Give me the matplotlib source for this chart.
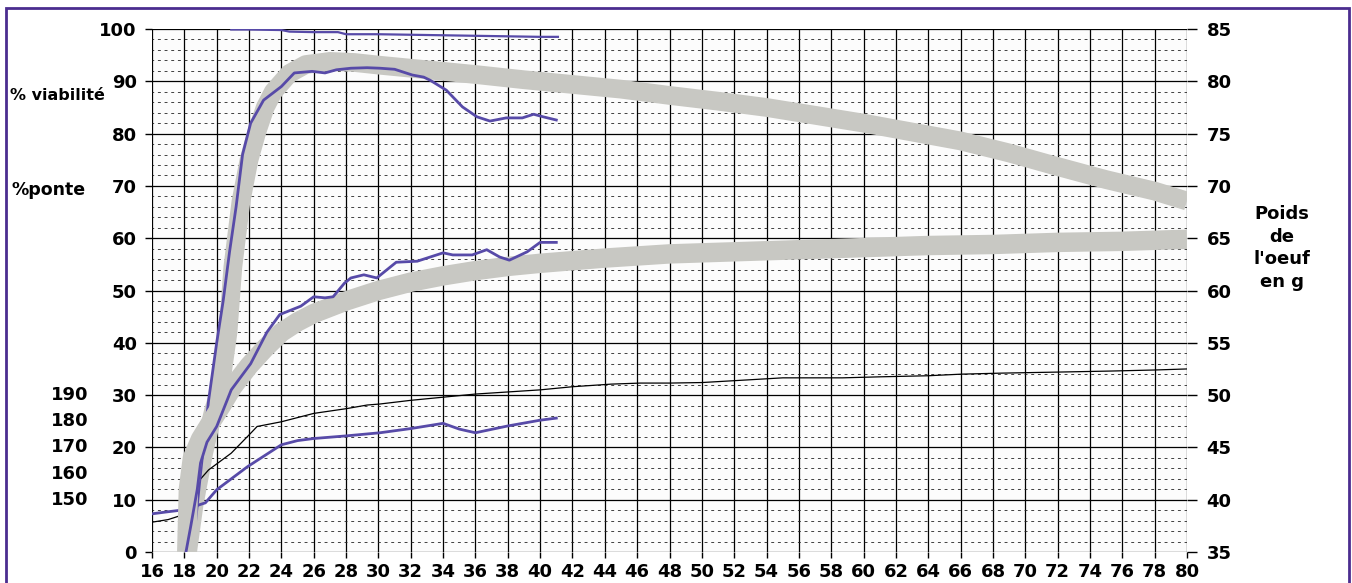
import matplotlib
matplotlib.use("Agg")
import matplotlib.pyplot as plt
from matplotlib.patches import Rectangle
from matplotlib.transforms import blended_transform_factory

# weeks of age on x
# viabilite (%), purple thin line at the top
viab_weeks = [20.9, 22, 24, 24.5, 26, 27.5, 28, 30, 32, 34, 36, 38, 40, 41.1]
viab_vals = [99.9, 99.9, 99.8, 99.5, 99.4, 99.4, 99.0, 99.0, 98.9, 98.8, 98.7, 98.6, 98.5, 98.5]

# ponte (%), standard (grey band) and observed (purple)
ponte_std_weeks = [18.2, 18.6, 19.2, 19.8, 20.2, 20.7, 21.0, 21.5, 22.0, 22.5, 23.0, 23.5, 24.5,
                   25.5, 27, 28.5, 30, 33, 36, 39, 42, 45, 48, 51, 54, 57, 60, 63, 66, 69, 72,
                   75, 78, 80]
ponte_std_vals = [0, 9, 19, 27, 31, 42, 54.5, 67, 75, 80.5, 85, 88, 91.5, 93.2, 93.8, 93.6, 93.1,
                  92.2, 91.3, 90.3, 89.4, 88.5, 87.3, 86.2, 85, 83.5, 82, 80.3, 78.6, 76.3, 73.7,
                  71.2, 69, 67.1]
ponte_weeks = [18.5, 19.0, 19.5, 20.0, 20.4, 20.8, 21.2, 21.6, 22.1, 22.9, 24.0, 24.8, 25.9, 26.7,
               27.4, 28.3, 29.3, 30.1, 31.0, 32.1, 32.8, 33.2, 34.2, 35.2, 36.1, 36.9, 37.9,
               38.9, 39.6, 40.2, 41.0]
ponte_vals = [0, 15, 29, 40, 48, 57.5, 66, 76, 82, 86.4, 89, 91.6, 91.9, 91.6, 92.2, 92.5, 92.6,
              92.5, 92.3, 91.2, 90.8, 90.2, 88.3, 85.1, 83.2, 82.4, 83.0, 83.0, 83.7, 83.2, 82.6]

# poids de l'oeuf (g), right axis
oeuf_std_weeks = [18.15, 18.25, 18.5, 19.0, 19.6, 20.3, 21, 22, 23, 24, 25, 26, 28, 30, 32, 34,
                  36, 38, 40, 44, 48, 52, 56, 60, 64, 68, 72, 76, 80]
oeuf_std_g = [35, 41, 44, 45.8, 47.3, 49, 50.8, 52.8, 54.5, 56, 57, 57.8, 59, 60, 60.8, 61.4,
              61.9, 62.3, 62.6, 63.1, 63.5, 63.7, 63.9, 64.1, 64.3, 64.4, 64.6, 64.7, 64.9]
oeuf_weeks = [18.1, 18.4, 18.8, 19.0, 19.4, 20.0, 20.9, 22.1, 23.1, 23.9, 25.2, 26.0, 26.7, 27.2,
              27.9, 28.3, 29.1, 29.9, 31.1, 32.4, 34.0, 34.6, 35.8, 36.7, 37.5, 38.1, 39.2,
              40.0, 41.0]
oeuf_g = [35, 37.5, 41, 43.5, 45.5, 47, 50.5, 53, 56, 57.7, 58.5, 59.4, 59.3, 59.4, 60.7, 61.2,
          61.5, 61.2, 62.7, 62.8, 63.6, 63.4, 63.4, 63.9, 63.2, 62.9, 63.7, 64.6, 64.6]

# poids corporel, in left-axis units (150..190 scale sits on 10..30)
pc_std_weeks = [16, 17, 17.7, 18.2, 18.5, 19.5, 20.9, 22.1, 22.5, 24, 26, 28, 29.3, 30.1, 32, 34,
                36, 38, 40, 42, 44.4, 46.2, 48, 50, 52.8, 55, 58.7, 61.1, 64, 66, 68.5, 72,
                75.3, 78, 80]
pc_std_vals = [5.7, 6.2, 6.9, 10.9, 12.2, 15.7, 18.9, 22.7, 24.0, 24.9, 26.5, 27.4, 28.1, 28.3,
               29.0, 29.6, 30.2, 30.6, 31.0, 31.6, 32.1, 32.3, 32.3, 32.4, 32.9, 33.3, 33.3,
               33.5, 33.7, 34.0, 34.2, 34.4, 34.6, 34.8, 35.0]
pc_weeks = [16, 17, 17.8, 18.5, 19.3, 20, 21.9, 24, 25, 26, 28, 30.1, 32, 34, 35, 36, 38, 40, 41]
pc_vals = [7.3, 7.7, 8.0, 8.6, 9.4, 11.9, 16.3, 20.5, 21.3, 21.7, 22.2, 22.8, 23.6, 24.6, 23.5,
           22.8, 24.1, 25.2, 25.6]

x_ticks = list(range(16, 81, 2))
left_ticks = list(range(0, 101, 10))
right_ticks = list(range(35, 86, 5))
pc_labels = ["190", "180", "170", "160", "150"]
pc_label_pos = [30, 25, 20, 15, 10]

purple = "#574aa8"
grey = "#c8c8c3"
font = {"family": "DejaVu Sans", "weight": "bold", "size": 13}

fig = plt.figure(figsize=(13.52, 5.83), dpi=100)
ax = fig.add_axes([152 / 1352, 31 / 583, (1187 - 152) / 1352, (552 - 29) / 583])
ax2 = ax.twinx()

ax.set_xlim(16, 80)
ax.set_ylim(0, 100)
ax2.set_ylim(35, 85)
ax.set_facecolor("#fcfcfc")

# grid
for x in x_ticks:
    ax.axvline(x, color="black", lw=0.9, zorder=0)
for y in left_ticks:
    ax.axhline(y, color="black", lw=0.9, zorder=0)
for y in range(0, 100, 2):
    if y % 10:
        ax.axhline(y, color="#222222", lw=0.6, ls=(1.5, (3.5, 4.5)), zorder=0)

# grey standard bands
ax.plot(ponte_std_weeks, ponte_std_vals, color=grey, lw=13.5, solid_capstyle="butt",
        solid_joinstyle="round", zorder=2)
ax2.plot(oeuf_std_weeks, oeuf_std_g, color=grey, lw=14, solid_capstyle="butt",
         solid_joinstyle="round", zorder=2)

# thin black body weight standard
ax.plot(pc_std_weeks, pc_std_vals, color="black", lw=0.9, zorder=3)

# observed purple lines
ax.plot(viab_weeks, viab_vals, color=purple, lw=1.6, zorder=4)
ax.plot(ponte_weeks, ponte_vals, color=purple, lw=2.0, zorder=4)
ax.plot(pc_weeks, pc_vals, color=purple, lw=2.0, zorder=4)
ax2.plot(oeuf_weeks, oeuf_g, color=purple, lw=2.0, zorder=4)

for a in (ax, ax2):
    for s in a.spines.values():
        s.set_visible(False)

ax.set_xticks(x_ticks)
ax.set_xticklabels([str(x) for x in x_ticks], fontdict=font)
ax.set_yticks(left_ticks)
ax.set_yticklabels([str(y) for y in left_ticks], fontdict=font)
ax.tick_params(axis="x", direction="out", length=4, width=1, pad=4)
ax.tick_params(axis="y", direction="out", length=5, width=1, pad=6)
ax2.set_yticks(right_ticks)
ax2.set_yticklabels([str(y) for y in right_ticks], fontdict=font)
ax2.tick_params(axis="y", direction="out", length=7, width=1, pad=7)

# body weight scale on the far left
tr = blended_transform_factory(fig.transFigure, ax.transData)
for lab, pos in zip(pc_labels, pc_label_pos):
    ax.text(70 / 1352, pos, lab, transform=tr, ha="center", va="center", **font)

fig.text(10 / 1352, 1 - 96 / 583, "% viabilité", ha="left", va="center",
         family="DejaVu Sans", weight="bold", size=11.5)
fig.text(12 / 1352, 1 - 190 / 583, "%ponte", ha="left", va="center",
         family="DejaVu Sans", weight="bold", size=12.5)
fig.text(1282 / 1352, 1 - 248 / 583, "Poids\nde\nl'oeuf\nen g", ha="center", va="center",
         linespacing=1.35, family="DejaVu Sans", weight="bold", size=13)

# purple frame around the picture
fig.patches.append(Rectangle((6 / 1352, -0.05), (1349 - 6) / 1352, 1.05 - 8 / 583,
                             transform=fig.transFigure, fill=False, edgecolor="#4b2d8f",
                             lw=2, clip_on=False))

fig.savefig("out.png", dpi=100)
